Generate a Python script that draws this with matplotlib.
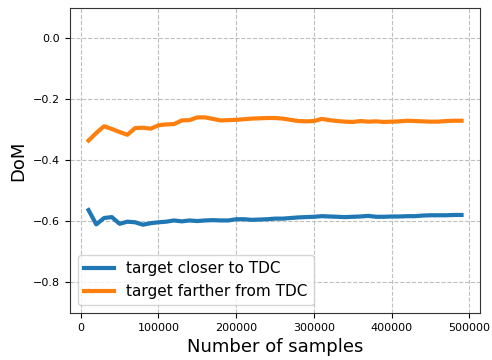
import numpy as np
import matplotlib
matplotlib.use("Agg")
import matplotlib.pyplot as plt

# sample counts at which DoM was evaluated
n_samples = np.arange(10000, 500000, 10000)

dom_closer = [-0.563, -0.610, -0.589, -0.586, -0.608, -0.601, -0.603, -0.611, -0.606, -0.603,
              -0.601, -0.597, -0.600, -0.597, -0.599, -0.597, -0.596, -0.597, -0.597, -0.593,
              -0.593, -0.595, -0.594, -0.593, -0.591, -0.591, -0.589, -0.587, -0.586, -0.585,
              -0.583, -0.584, -0.585, -0.586, -0.585, -0.584, -0.582, -0.585, -0.585, -0.584,
              -0.584, -0.583, -0.583, -0.581, -0.580, -0.580, -0.580, -0.579, -0.579]

dom_farther = [-0.335, -0.310, -0.288, -0.297, -0.307, -0.316, -0.294, -0.293, -0.296, -0.285,
               -0.282, -0.281, -0.269, -0.268, -0.259, -0.259, -0.264, -0.269, -0.268, -0.267,
               -0.265, -0.263, -0.262, -0.261, -0.261, -0.263, -0.267, -0.271, -0.272, -0.271,
               -0.264, -0.268, -0.271, -0.273, -0.274, -0.271, -0.273, -0.272, -0.274, -0.273,
               -0.272, -0.270, -0.271, -0.272, -0.273, -0.273, -0.271, -0.270, -0.270]

fig = plt.figure(figsize=(4.92, 3.6), dpi=100)
ax = fig.add_axes([0.142, 0.131, 0.834, 0.847])

ax.plot(n_samples, dom_closer, color='#1f77b4', lw=3, label='target closer to TDC')
ax.plot(n_samples, dom_farther, color='#ff7f0e', lw=3, label='target farther from TDC')

ax.set_ylim(-0.9, 0.1)
ax.set_yticks([0.0, -0.2, -0.4, -0.6, -0.8])
ax.grid(True, linestyle='--', color='#b0b0b0', alpha=0.8)
ax.tick_params(labelsize=8)
for s in ax.spines.values():
    s.set_color('#333333')

ax.set_xlabel('Number of samples', fontsize=13)
ax.set_ylabel('DoM', fontsize=13)
ax.legend(loc='lower left', fontsize=11)

fig.savefig('out.png', dpi=100)
